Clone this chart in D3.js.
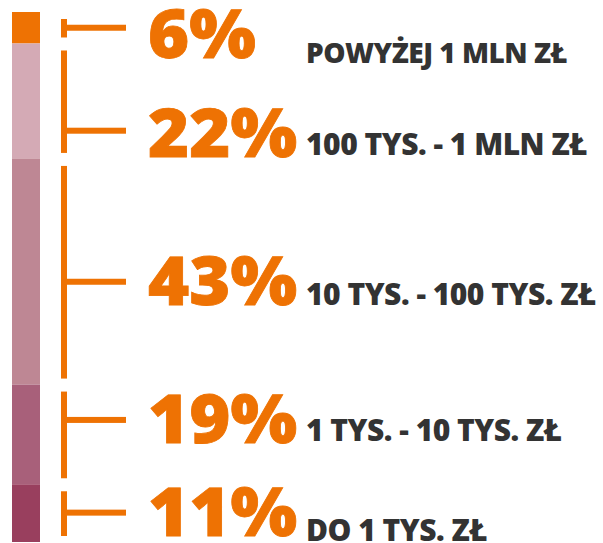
<!DOCTYPE html>
<html>
<head>
<meta charset="utf-8">
<script src="https://cdn.jsdelivr.net/npm/d3@7"></script>
<style>
  body { margin: 0; background: #fff; }
  svg { display: block; }
</style>
</head>
<body>
<svg id="chart" width="603" height="543"></svg>
<script>
// data, top to bottom
const categories = ['POWYŻEJ 1 MLN ZŁ', '100 TYS. - 1 MLN ZŁ', '10 TYS. - 100 TYS. ZŁ', '1 TYS. - 10 TYS. ZŁ', 'DO 1 TYS. ZŁ'];
const shares = [6, 22, 43, 19, 11];
const barColors = ['#ee7203', '#d4aab5', '#be8794', '#a8607a', '#993f5e'];

const orange = '#ee7203';
const textColor = '#333333';

// layout tweaks per row (px): where the tick sits vs segment middle, text baselines vs tick
const tickShift = [0, 29.5, 10, -14.5, -0.5];
const pctDy = [30, 26, 23, 23, 23];
const lblDy = [35, 24, 23, 21, 28];
const lblSize = [28, 30, 30, 30, 30];

const svg = d3.select('#chart');
const total = d3.sum(shares);

const y = d3.scaleLinear().domain([0, total]).range([12, 542]);

let acc = 0;
const rows = shares.map((v, i) => {
  const r = { name: categories[i], value: v, y0: acc, y1: acc + v, i };
  acc += v;
  return r;
});

// stacked bar
svg.append('g')
  .selectAll('rect')
  .data(rows)
  .join('rect')
  .attr('x', 12)
  .attr('width', 28)
  .attr('y', d => y(d.y0))
  .attr('height', d => y(d.y1) - y(d.y0))
  .attr('fill', (d, i) => barColors[i]);

// brackets
const br = svg.append('g').attr('fill', orange);
br.selectAll('rect.v')
  .data(rows)
  .join('rect')
  .attr('class', 'v')
  .attr('x', 61)
  .attr('width', 6)
  .attr('y', d => y(d.y0) + 7)
  .attr('height', d => y(d.y1) - y(d.y0) - 13);

const tickY = d => (y(d.y0) + y(d.y1)) / 2 + tickShift[d.i];

br.selectAll('rect.h')
  .data(rows)
  .join('rect')
  .attr('class', 'h')
  .attr('x', 67)
  .attr('width', 59)
  .attr('y', d => tickY(d) - 3)
  .attr('height', 6);

// percentages
svg.append('g')
  .selectAll('text')
  .data(rows)
  .join('text')
  .attr('transform', d => `translate(148,${tickY(d) + pctDy[d.i]}) scale(1.05,1)`)
  .attr('fill', orange)
  .attr('stroke', orange)
  .attr('stroke-width', 0.8)
  .style('font-family', '"Open Sans", sans-serif')
  .style('font-weight', 800)
  .style('font-size', '67px')
  .style('letter-spacing', '0px')
  .text(d => d.value + '%');

// range labels
svg.append('g')
  .selectAll('text')
  .data(rows)
  .join('text')
  .attr('x', 306)
  .attr('y', d => tickY(d) + lblDy[d.i])
  .attr('fill', textColor)
  .style('font-family', '"Open Sans", sans-serif')
  .style('font-weight', 800)
  .style('font-size', d => lblSize[d.i] + 'px')
  .style('letter-spacing', '-0.5px')
  .text(d => d.name);
</script>
</body>
</html>
